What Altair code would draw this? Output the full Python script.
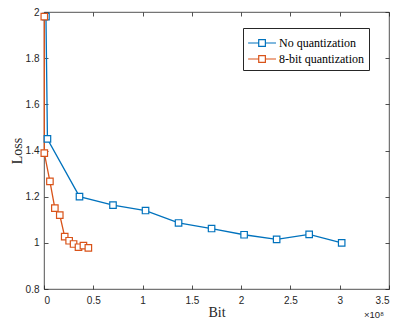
import altair as alt
import pandas as pd

series_names = ["No quantization", "8-bit quantization"]
series_colors = ["#0072BD", "#D95319"]

blue_x = [0.02, 0.035, 0.36, 0.70, 1.03, 1.365, 1.70, 2.03, 2.36, 2.69, 3.02]
blue_y = [1.98, 1.45, 1.20, 1.163, 1.14, 1.086, 1.062, 1.035, 1.015, 1.037, 1.0]
orange_x = [0.003, 0.003, 0.06, 0.11, 0.16, 0.21, 0.255, 0.30, 0.35, 0.40, 0.45]
orange_y = [1.98, 1.389, 1.266, 1.15, 1.12, 1.027, 1.009, 0.995, 0.981, 0.988, 0.978]

x_ticks = [0, 0.5, 1, 1.5, 2, 2.5, 3, 3.5]
y_ticks = [0.8, 1.0, 1.2, 1.4, 1.6, 1.8, 2.0]
exp_label = ["×10⁸"]

rows = []
for i, (x, y) in enumerate(zip(blue_x, blue_y)):
    rows.append({"Bit": x, "Loss": y, "series": series_names[0], "i": i})
for i, (x, y) in enumerate(zip(orange_x, orange_y)):
    rows.append({"Bit": x, "Loss": y, "series": series_names[1], "i": i})
df = pd.DataFrame(rows)

W, H = 345, 277
INK = "#262626"
SANS = "Liberation Sans"
SERIF = "Liberation Serif"

# legend symbol: line with a hollow square in the middle (unit = sqrt(size)/2)
sym_path = ("M-1.1,0L0.08,0M0.82,0L2.0,0"
            "M0.08,-0.37L0.82,-0.37L0.82,0.37L0.08,0.37Z")

xscale = alt.Scale(domain=[0, 3.5], nice=False, zero=False)
yscale = alt.Scale(domain=[0.8, 2.0], nice=False, zero=False)
cscale = alt.Scale(domain=series_names, range=series_colors)

xaxis = alt.Axis(values=x_ticks, format="~g", title="Bit", grid=False, domain=False,
                 tickSize=4, offset=-4, tickColor=INK, tickWidth=0.8,
                 labelPadding=6, labelFont=SANS, labelFontSize=10, labelColor=INK,
                 titleFont=SERIF, titleFontSize=14, titleFontWeight="normal",
                 titleColor=INK, titlePadding=0)
yaxis = alt.Axis(values=y_ticks, format="~g", title="Loss", grid=False, domain=False,
                 tickSize=4, offset=-4, tickColor=INK, tickWidth=0.8,
                 labelPadding=5, labelFont=SANS, labelFontSize=10, labelColor=INK,
                 titleFont=SERIF, titleFontSize=14, titleFontWeight="normal",
                 titleColor=INK, titlePadding=1)

legend = alt.Legend(orient="none", legendX=199, legendY=16, title=None,
                    symbolType=sym_path, symbolSize=324, symbolStrokeWidth=1.2,
                    symbolFillColor="white",
                    labelFont=SERIF, labelFontSize=12, labelColor="black",
                    labelFontWeight="normal",
                    labelOffset=11, strokeColor=INK, fillColor="white",
                    padding=5, rowPadding=0, offset=0)

base = alt.Chart(df)

lines = base.mark_line(strokeWidth=1.3).encode(
    x=alt.X("Bit:Q", scale=xscale, axis=xaxis),
    y=alt.Y("Loss:Q", scale=yscale, axis=yaxis),
    color=alt.Color("series:N", scale=cscale, legend=legend, sort=series_names),
    order="i:Q",
)
points = base.mark_point(shape="square", size=42, fill="white", filled=False,
                         strokeWidth=1.2, opacity=1).encode(
    x=alt.X("Bit:Q", scale=xscale),
    y=alt.Y("Loss:Q", scale=yscale),
    color=alt.Color("series:N", scale=cscale, legend=legend, sort=series_names),
)
main = alt.layer(lines, points)

frame = base.mark_point(opacity=0).encode(
    x=alt.X("Bit:Q", scale=xscale,
            axis=alt.Axis(orient="top", values=x_ticks, labels=False, title=None,
                          grid=False, domain=False, tickSize=4, offset=-4,
                          tickColor=INK, tickWidth=0.8)),
    y=alt.Y("Loss:Q", scale=yscale,
            axis=alt.Axis(orient="right", values=y_ticks, labels=False, title=None,
                          grid=False, domain=False, tickSize=4, offset=-4,
                          tickColor=INK, tickWidth=0.8)),
)

exp_text = alt.Chart(pd.DataFrame({"t": exp_label})).mark_text(
    align="right", baseline="alphabetic", font=SANS, fontSize=9.5, color=INK
).encode(x=alt.value(W - 5), y=alt.value(H + 29), text="t:N")

chart = alt.layer(main, frame, exp_text).resolve_scale(
    x="independent", y="independent"
).properties(
    width=W, height=H,
    autosize=alt.AutoSizeParams(type="none"),
    padding={"left": 36, "top": 4, "right": 7, "bottom": 30},
    background="white",
).configure(font=SERIF).configure_view(stroke=INK, strokeWidth=0.8).configure_legend(
    labelFont=SERIF, labelFontSize=12, labelColor="black", labelFontWeight="normal"
)

chart.save("out.html", embed_options={"renderer": "svg", "actions": False})
